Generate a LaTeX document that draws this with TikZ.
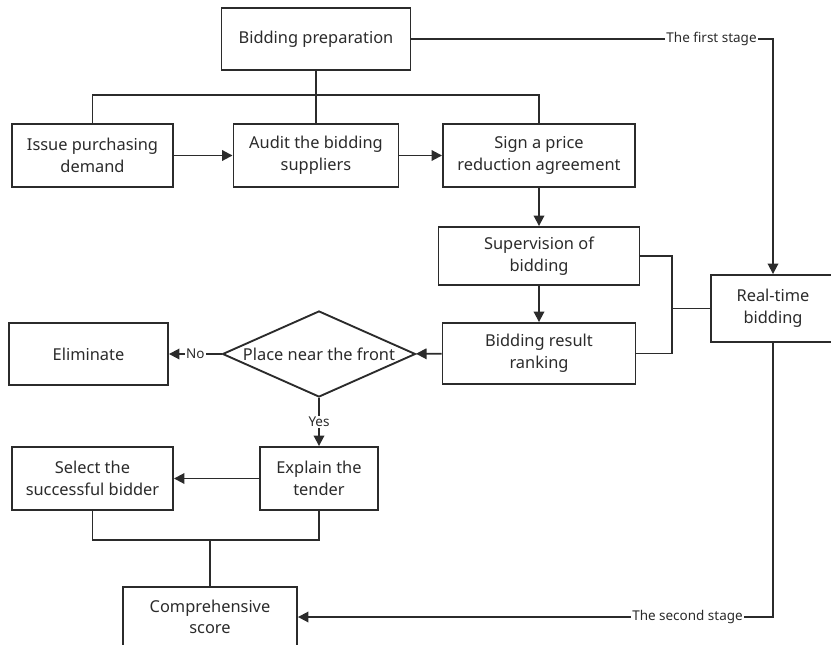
\documentclass[tikz,border=0pt]{standalone}
\usepackage{fontspec}
\setmainfont{Noto Sans}
\usetikzlibrary{arrows.meta,shapes.geometric}
\definecolor{ink}{HTML}{2B2B2B}
\begin{document}
\begin{tikzpicture}[x=0.03cm, y=-0.03cm, line width=1.6pt, draw=ink,
		box/.style={draw=ink, text=ink, align=center, inner sep=0pt, font=\fontsize{14}{18.5}\selectfont},
		lbl/.style={fill=white, text=ink, inner sep=1pt, font=\fontsize{11.5}{12}\selectfont},
		arr/.style={-{Triangle[length=9pt,width=9pt]}}]
				\useasboundingbox (0,0) rectangle (831,645);
				\node (1) [box, minimum width=5.67cm, minimum height=1.86cm] at (316,39) {Bidding preparation};
				\node (2) [box, minimum width=4.83cm, minimum height=1.89cm] at (92.5,155.5) {Issue purchasing\\demand};
				\node (3) [box, minimum width=4.95cm, minimum height=1.89cm] at (316,155.5) {Audit the bidding\\suppliers};
				\node (4) [box, minimum width=5.76cm, minimum height=1.89cm] at (539,155.5) {Sign a price\\reduction agreement};
				\node (5) [box, minimum width=6.03cm, minimum height=1.74cm] at (539,256) {Supervision of\\bidding};
				\node (6) [box, minimum width=5.79cm, minimum height=1.83cm] at (539,353.5) {Bidding result\\ranking};
				\node (7) [box, minimum width=3.72cm, minimum height=2.01cm] at (773,308.5) {Real-time\\bidding};
				\node (8) [box, diamond, minimum width=5.79cm, minimum height=2.58cm, label={[text=ink, font=\fontsize{14}{18.5}\selectfont]center:Place near the front}] at (319,354) {};
				\node (9) [box, minimum width=4.77cm, minimum height=1.86cm] at (88.5,354) {Eliminate};
				\node (10) [box, minimum width=3.54cm, minimum height=1.89cm] at (319,478.5) {Explain the\\tender};
				\node (11) [box, minimum width=4.83cm, minimum height=1.89cm] at (92.5,478.5) {Select the\\successful bidder};
				\node (12) [box, minimum width=5.22cm, minimum height=1.8cm] at (210,617) {Comprehensive\\score};
				
				\coordinate (j1) at (316,95);
				\coordinate (j2) at (672,308.5);
				\coordinate (j3) at (210,540);
				
				\draw (1.south) -- (j1);
				\draw (2.north) |- (j1) -| (4.north);
				\draw (j1) -- (3.north);
				\draw[arr] (2) -- (3);
				\draw[arr] (3) -- (4);
				\draw[arr] (4) -- (5);
				\draw[arr] (5) -- (6);
				\draw (5.east) -| (j2) |- (6.east);
				\draw (7.west) -- (j2);
				\draw[arr] (6) -- (8);
				\draw[arr] (8.west) -- node[lbl] {No} (9.east);
				\draw[arr] (8.south) -- node[lbl] {Yes} (10.north);
				\draw[arr] (10) -- (11);
				\draw (11.south) |- (j3) -| (10.south);
				\draw (j3) -- (12.north);
				\draw[arr] (1.east) -| node[lbl, pos=0.415] {The first stage} (7.north);
				\draw[arr] (7.south) |- node[lbl, pos=0.59] {The second stage} (12.east);
			\end{tikzpicture}
\end{document}
